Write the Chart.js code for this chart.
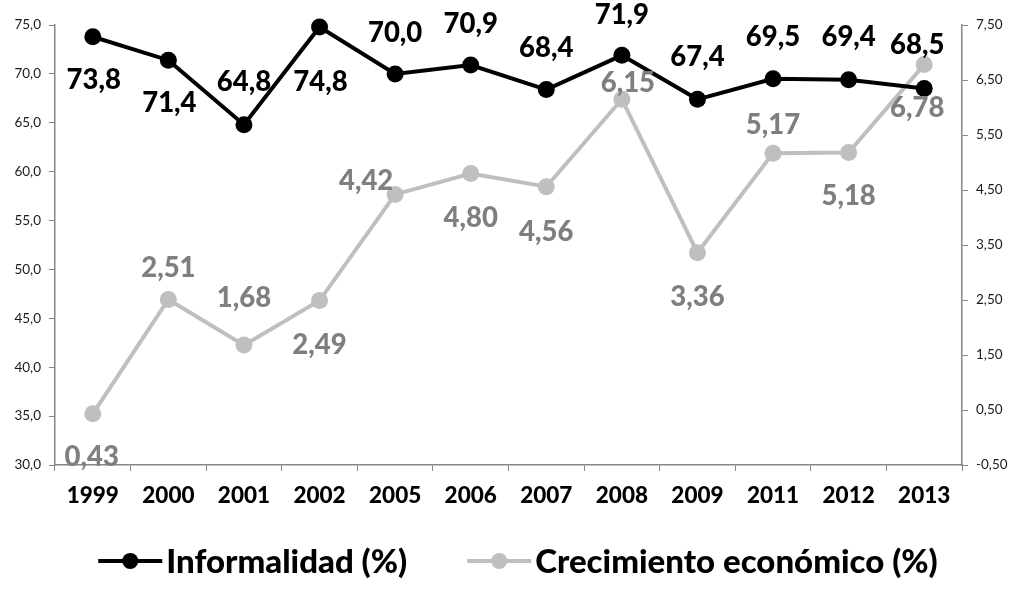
<!DOCTYPE html>
<html>
<head>
<meta charset="utf-8">
<script src="https://cdn.jsdelivr.net/npm/chart.js@4/dist/chart.umd.min.js"></script>
<style>
  html, body { margin: 0; padding: 0; background: #fff; }
  #wrap { width: 1018px; height: 590px; }
</style>
</head>
<body>
<div id="wrap"><canvas id="chart"></canvas></div>
<script>
const years        = ['1999', '2000', '2001', '2002', '2005', '2006', '2007', '2008', '2009', '2011', '2012', '2013'];
const informalidad = [73.8, 71.4, 64.8, 74.8, 70.0, 70.9, 68.4, 71.9, 67.4, 69.5, 69.4, 68.5];
const crecimiento  = [0.43, 2.51, 1.68, 2.49, 4.42, 4.80, 4.56, 6.15, 3.36, 5.17, 5.18, 6.78];

// label offsets (dx, dy) from each point, as placed in the original
const infLabelPos  = [[1, 43], [1, 43], [0, -43], [1, 55], [0, -41], [0, -41], [0, -41], [0, -40], [0, -42], [0, -42], [0, -43], [-7, -43]];
const creLabelPos  = [[-1, 43], [0, -31], [0, -47], [0, 45], [-29, -13], [0, 45], [0, 45], [6, -16], [0, 44], [0, -28], [0, 44], [-7, 44]];

const FONT = 'Lato, "Open Sans", sans-serif';
const AXIS = '#868686';
const BLACK = '#000000';
const GREY = '#bfbfbf';
const GREY_TXT = '#7f7f7f';

const comma = (v, d) => v.toFixed(d).replace('.', ',');

const pointLabels = {
  id: 'pointLabels',
  afterDatasetsDraw(chart) {
    const { ctx } = chart;
    const cfg = [
      { pos: infLabelPos, color: BLACK, dec: 1 },
      { pos: creLabelPos, color: GREY_TXT, dec: 2 },
    ];
    ctx.save();
    ctx.font = '900 27.5px ' + FONT;
    ctx.textAlign = 'center';
    ctx.textBaseline = 'middle';
    chart.data.datasets.forEach((ds, i) => {
      const meta = chart.getDatasetMeta(i);
      ctx.fillStyle = cfg[i].color;
      meta.data.forEach((pt, j) => {
        const [dx, dy] = cfg[i].pos[j];
        ctx.fillText(comma(ds.data[j], cfg[i].dec), pt.x + dx, pt.y + dy);
      });
    });
    ctx.restore();
  }
};

const bottomLegend = {
  id: 'bottomLegend',
  afterDraw(chart) {
    const { ctx } = chart;
    const y = 561;
    ctx.save();
    ctx.font = '900 33px ' + FONT;
    ctx.textBaseline = 'middle';
    const items = chart.data.datasets.map(ds => ({ label: ds.label, color: ds.borderColor, w: ctx.measureText(ds.label).width }));
    const lineW = 64, gapTxt = 4, gapItem = 60;
    const total = items.reduce((s, it) => s + lineW + gapTxt + it.w, 0) + gapItem * (items.length - 1);
    let x = 518 - total / 2;
    items.forEach(it => {
      ctx.strokeStyle = it.color;
      ctx.lineWidth = 4;
      ctx.beginPath();
      ctx.moveTo(x, y);
      ctx.lineTo(x + lineW, y);
      ctx.stroke();
      ctx.fillStyle = it.color;
      ctx.beginPath();
      ctx.arc(x + lineW / 2, y, 8, 0, Math.PI * 2);
      ctx.fill();
      x += lineW + gapTxt;
      ctx.fillStyle = '#000';
      ctx.fillText(it.label, x, y + 1);
      x += it.w + gapItem;
    });
    ctx.restore();
  }
};

new Chart(document.getElementById('chart'), {
  type: 'line',
  data: {
    labels: years,
    datasets: [
      {
        label: 'Informalidad (%)',
        data: informalidad,
        yAxisID: 'y',
        borderColor: BLACK,
        backgroundColor: BLACK,
        borderWidth: 4,
        pointRadius: 8.5,
        pointBorderWidth: 0,
        tension: 0,
        clip: false,
      },
      {
        label: 'Crecimiento económico (%)',
        data: crecimiento,
        yAxisID: 'y1',
        borderColor: GREY,
        backgroundColor: GREY,
        borderWidth: 4,
        pointRadius: 8.5,
        pointBorderWidth: 0,
        tension: 0,
        clip: false,
      },
    ],
  },
  options: {
    responsive: true,
    maintainAspectRatio: false,
    animation: false,
    layout: { padding: { top: 25, bottom: 75, left: 0, right: 0 } },
    plugins: {
      legend: { display: false },
      tooltip: { enabled: false },
    },
    scales: {
      x: {
        offset: true,
        grid: { offset: true, drawOnChartArea: false, tickLength: 6, color: AXIS },
        border: { color: AXIS, width: 1.5 },
        ticks: { color: '#000', font: { family: FONT, size: 22.5, weight: '900' }, padding: 11, maxRotation: 0 },
        afterFit: s => { s.height = 50; },
      },
      y: {
        position: 'left',
        min: 30, max: 75,
        ticks: { stepSize: 5, color: '#1a1a1a', font: { family: FONT, size: 13.5 }, padding: 8, callback: v => comma(v, 1) },
        grid: { drawOnChartArea: false, tickLength: 6, color: AXIS },
        border: { color: AXIS, width: 1.5 },
        afterFit: s => { s.width = 55; },
      },
      y1: {
        position: 'right',
        min: -0.5, max: 7.5,
        ticks: { stepSize: 1, color: '#1a1a1a', font: { family: FONT, size: 13.5 }, padding: 8, callback: v => comma(v, 2) },
        grid: { drawOnChartArea: false, tickLength: 6, color: AXIS },
        border: { color: AXIS, width: 1.5 },
        afterFit: s => { s.width = 56; },
      },
    },
  },
  plugins: [pointLabels, bottomLegend],
});
</script>
</body>
</html>
